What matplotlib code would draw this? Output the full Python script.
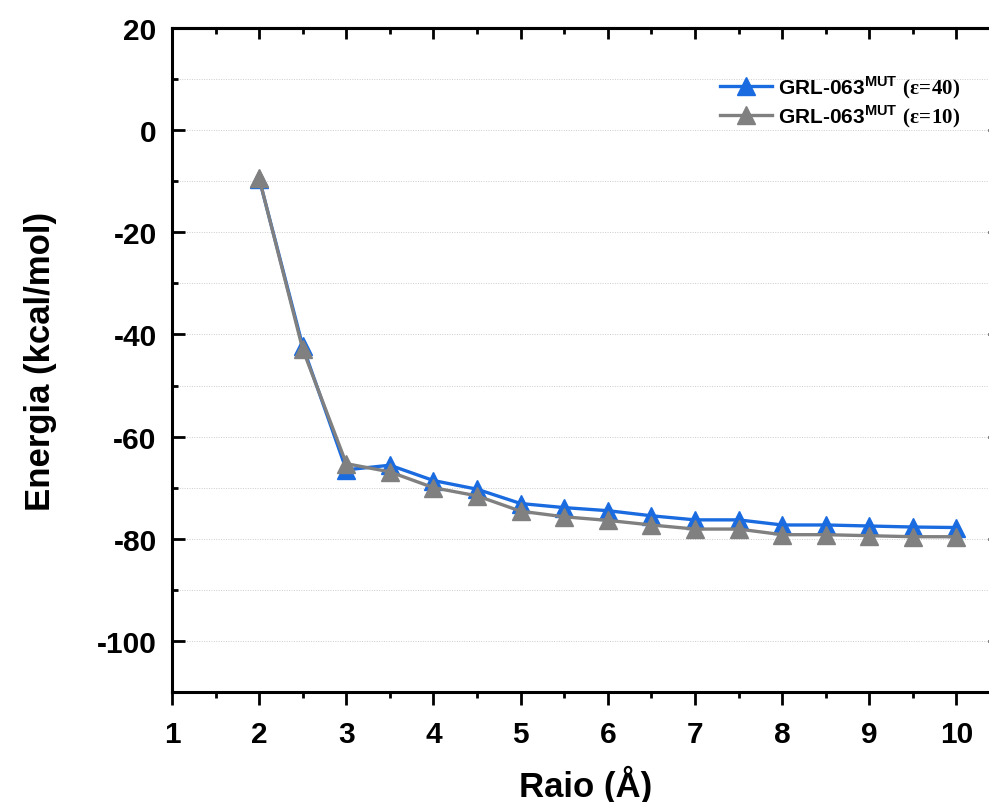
import numpy as np
import matplotlib
matplotlib.use("Agg")
import matplotlib.pyplot as plt
from matplotlib.ticker import MultipleLocator

plt.rcParams['font.family'] = ['Liberation Sans', 'DejaVu Sans']
plt.rcParams['font.weight'] = 'bold'
plt.rcParams['axes.unicode_minus'] = False
plt.rcParams['mathtext.fontset'] = 'custom'
plt.rcParams['mathtext.bf'] = 'Liberation Sans:bold'
plt.rcParams['mathtext.rm'] = 'Liberation Serif'

# Raio (Å) e energias (kcal/mol)
raio = [2, 2.5, 3, 3.5, 4, 4.5, 5, 5.5, 6, 6.5, 7, 7.5, 8, 8.5, 9, 9.5, 10]
e_40 = [-9.5, -42.3, -66.5, -65.6, -68.6, -70.3, -73.1, -73.9, -74.5, -75.5,
        -76.3, -76.3, -77.3, -77.3, -77.5, -77.7, -77.8]
e_10 = [-9.4, -42.9, -65.3, -66.9, -70.0, -71.6, -74.6, -75.7, -76.4, -77.3,
        -78.1, -78.1, -79.2, -79.2, -79.4, -79.6, -79.6]

lbl_40 = r"GRL-063$^{\mathbf{MUT}}$ $\mathrm{(ε\!=\!40)}$"
lbl_10 = r"GRL-063$^{\mathbf{MUT}}$ $\mathrm{(ε\!=\!10)}$"

fig = plt.figure(figsize=(9.89, 8.03), dpi=100)
ax = fig.add_axes([172/989, 110/803, 828/989, 664/803])

ax.plot(raio, e_40, color='#1a6be0', lw=2.4, marker='^', ms=13, label=lbl_40, zorder=3)
ax.plot(raio, e_10, color='#808080', lw=2.4, marker='^', ms=13, label=lbl_10, zorder=4)

ax.set_xlim(1, 10.5)
ax.set_ylim(-110, 20)
ax.xaxis.set_major_locator(MultipleLocator(1))
ax.xaxis.set_minor_locator(MultipleLocator(0.5))
ax.yaxis.set_major_locator(MultipleLocator(20))
ax.yaxis.set_minor_locator(MultipleLocator(10))

for s in ax.spines.values():
    s.set_linewidth(2.2)

ax.tick_params(axis='x', which='both', direction='out', bottom=True, top=False, width=2, labelsize=21.5, pad=11)
ax.tick_params(axis='x', which='major', length=9)
ax.tick_params(axis='x', which='minor', length=4.5)
ax.tick_params(axis='y', which='both', direction='in', left=True, right=True, width=2, labelsize=21.5, pad=11)
ax.tick_params(axis='y', which='major', length=9)
ax.tick_params(axis='y', which='minor', length=4.5)

# ticks do topo para dentro
sec = ax.secondary_xaxis('top')
sec.xaxis.set_major_locator(MultipleLocator(1))
sec.xaxis.set_minor_locator(MultipleLocator(0.5))
sec.tick_params(which='both', direction='in', width=2, labeltop=False)
sec.tick_params(which='major', length=8)
sec.tick_params(which='minor', length=4)
sec.spines['top'].set_linewidth(2.2)

ax.yaxis.grid(True, which='both', ls=(0, (1, 1.5)), lw=0.7, color='#cccccc', zorder=0)
ax.set_axisbelow(True)

ax.set_xlabel("Raio (Å)", fontsize=25, fontweight='bold', labelpad=12)
ax.set_ylabel("Energia (kcal/mol)", fontsize=25, fontweight='bold')
ax.yaxis.set_label_coords((57 - 172) / 828, 0.5)

ax.legend(loc='upper left', bbox_to_anchor=(720/989, 1 - 74/803), bbox_transform=fig.transFigure,
          frameon=False, fontsize=15, numpoints=1, handlelength=2.5, handletextpad=0.3,
          labelspacing=0.15, borderpad=0, borderaxespad=0)

fig.savefig("out.png", dpi=100)
